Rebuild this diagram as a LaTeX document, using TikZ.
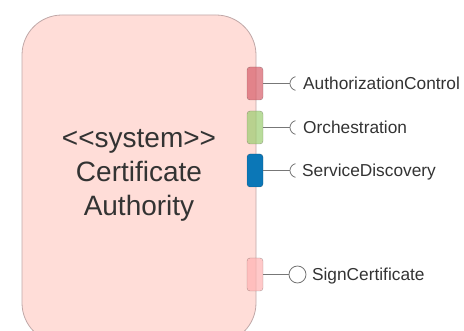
\documentclass[tikz,border=0pt]{standalone}
\usepackage{fontspec}
\setmainfont{Liberation Sans}
\usetikzlibrary{positioning}
\definecolor{boxpink}{HTML}{FFDDD8}
\definecolor{boxline}{HTML}{C0A8A8}
\definecolor{textgray}{HTML}{333333}
\definecolor{wiregray}{HTML}{777777}
\definecolor{portred}{HTML}{D75E69}
\definecolor{portgreen}{HTML}{9BCD70}
\definecolor{portblue}{HTML}{0B77B7}
\definecolor{portpink}{HTML}{FFB2B2}
\begin{document}
\begin{tikzpicture}[x=1pt, y=-1pt,
    port/.style={draw=black, draw opacity=0.3, fill opacity=0.7, rounded corners=3pt,
      minimum width=16pt, minimum height=33pt, inner sep=0pt},
    wire/.style={draw=wiregray, line width=0.8pt},
    lbl/.style={anchor=base west, yshift=-6pt, inner sep=1pt, text=textgray,
      font=\fontsize{17.3}{20}\selectfont}]
    \useasboundingbox (0,0) rectangle (464,331);
    \clip (0,0) rectangle (464,331);
    % System box
    \draw[fill=boxpink, draw=boxline, line width=0.8pt, rounded corners=40pt] (22,15) rectangle (256,343);
    \node[text=textgray, align=center, font=\fontsize{28}{34}\selectfont] (ca) at (139,175)
      {<\kern0pt<system>\kern0pt>\\Certificate\\Authority};

    % Ports
    \node[port, fill=portred] (acport) at (255,83.5) {};
    \node[port, fill=portgreen] (orport) at (255,127.5) {};
    \node[port, fill=portblue, fill opacity=1] (sdport) at (255,170.5) {};
    \node[port, fill=portpink] (scport) at (255,274.5) {};

    % Required interfaces
    \coordinate (acsock) at (290,83.5);
    \coordinate (orsock) at (290,127.5);
    \coordinate (sdsock) at (290,170.5);
    \draw[wire] (acport.east) -- (acsock) arc[start angle=180, end angle=102, radius=7pt]
      (acsock) arc[start angle=180, end angle=258, radius=7pt];
    \draw[wire] (orport.east) -- (orsock) arc[start angle=180, end angle=102, radius=7pt]
      (orsock) arc[start angle=180, end angle=258, radius=7pt];
    \draw[wire] (sdport.east) -- (sdsock) arc[start angle=180, end angle=102, radius=7pt]
      (sdsock) arc[start angle=180, end angle=258, radius=7pt];

    % Provided interface
    \node[circle, draw=wiregray, line width=0.8pt, fill=white, minimum size=17pt, inner sep=0pt] (scsock) at (297.5,274.5) {};
    \draw[wire] (scport.east) -- (scsock);

    \node[right=12pt of acsock, lbl] (aclbl) {AuthorizationControl};
    \node[right=12pt of orsock, lbl] (orlbl) {Orchestration};
    \node[right=11pt of sdsock, lbl] (sdlbl) {ServiceDiscovery};
    \node[right=4.5pt of scsock, lbl] (sclbl) {SignCertificate};
\end{tikzpicture}
\end{document}
